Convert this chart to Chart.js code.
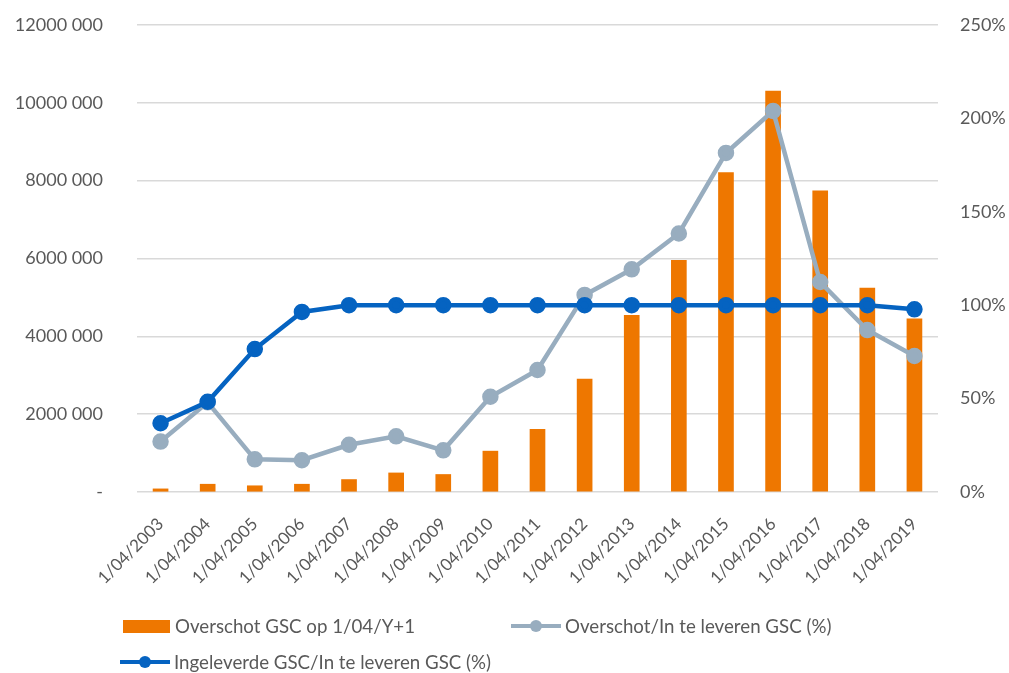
<!DOCTYPE html>
<html>
<head>
<meta charset="utf-8">
<script src="https://cdn.jsdelivr.net/npm/chart.js@4.4.1/dist/chart.umd.min.js"></script>
<style>
html,body{margin:0;padding:0;background:#fff;}
#wrap{position:relative;width:1009px;height:673px;overflow:hidden;}
canvas{position:absolute;left:0;top:0;}
.lg{position:absolute;font-family:Lato,"Open Sans",sans-serif;font-size:18.7px;color:#595959;white-space:nowrap;display:flex;align-items:center;}
.box{display:inline-block;width:47px;height:13px;background:#EE7700;margin-right:5px;}
.ln{position:relative;display:inline-block;width:50px;height:12px;margin-right:4px;}
.ln:before{content:"";position:absolute;left:0;right:0;top:4px;height:4px;}
.ln:after{content:"";position:absolute;left:19px;top:0;width:12px;height:12px;border-radius:50%;}
.g:before,.g:after{background:#98ADBF;}
.b:before,.b:after{background:#0563C1;}
</style>
</head>
<body>
<div id="wrap">
<canvas id="c" width="1009" height="673"></canvas>
<div class="lg" style="left:123px;top:615px;"><span class="box"></span><span>Overschot GSC op 1/04/Y+1</span></div>
<div class="lg" style="left:511px;top:615px;"><span class="ln g"></span><span>Overschot/In te leveren GSC (%)</span></div>
<div class="lg" style="left:120px;top:651px;"><span class="ln b"></span><span>Ingeleverde GSC/In te leveren GSC (%)</span></div>
</div>
<script>
const categories = ["1/04/2003","1/04/2004","1/04/2005","1/04/2006","1/04/2007","1/04/2008","1/04/2009","1/04/2010","1/04/2011","1/04/2012","1/04/2013","1/04/2014","1/04/2015","1/04/2016","1/04/2017","1/04/2018","1/04/2019"];
const overschot = [80000,200000,160000,200000,320000,490000,450000,1050000,1610000,2900000,4540000,5950000,8210000,10300000,7740000,5240000,4450000];
const overschotPct = [27,48,17.5,17,25.3,29.8,22.3,51,65.3,105.5,119.2,138.4,181.5,204,112.4,86.7,72.8];
const ingeleverdPct = [36.8,48.3,76.5,96.4,100,100,100,100,100,100,100,100,100,100,100,100,97.8];
const leftTickLabels = ["-","2000 000","4000 000","6000 000","8000 000","10000 000","12000 000"];
const rightTickLabels = ["0%","50%","100%","150%","200%","250%"];
const seriesNames = ["Overschot GSC op 1/04/Y+1","Overschot/In te leveren GSC (%)","Ingeleverde GSC/In te leveren GSC (%)"];

const tickFont = {family:"Lato, 'Open Sans', sans-serif", size:18};
new Chart(document.getElementById('c'), {
  data: {
    labels: categories,
    datasets: [
      {type:'line', label:seriesNames[2], data:ingeleverdPct, yAxisID:'y1', borderColor:'#0563C1', backgroundColor:'#0563C1', borderWidth:4.5, pointRadius:6, pointHoverRadius:6, tension:0, order:1},
      {type:'line', label:seriesNames[1], data:overschotPct, yAxisID:'y1', borderColor:'#98ADBF', backgroundColor:'#98ADBF', borderWidth:4.5, pointRadius:6, pointHoverRadius:6, tension:0, order:2},
      {type:'bar', label:seriesNames[0], data:overschot, yAxisID:'y', backgroundColor:'#EE7700', barThickness:15, order:3}
    ]
  },
  options: {
    responsive:false, animation:false,
    layout:{padding:{top:25,bottom:73,left:0,right:0}},
    plugins:{legend:{display:false}, tooltip:{enabled:false}},
    scales:{
      x:{
        grid:{display:false}, border:{display:false},
        ticks:{font:{family:"Lato, 'Open Sans', sans-serif", size:17}, color:'#595959', minRotation:45, maxRotation:45, autoSkip:false, padding:14},
        afterFit:(s)=>{s.height=108;}
      },
      y:{
        position:'left', min:0, max:12000000,
        grid:{color:'#D9D9D9', lineWidth:1.5, drawTicks:false}, border:{display:false},
        ticks:{stepSize:2000000, font:tickFont, color:'#595959', padding:34, callback:(v)=>leftTickLabels[Math.round(v/2000000)]},
        afterFit:(s)=>{s.width=137; s.paddingTop=12; s.paddingBottom=12;}
      },
      y1:{
        position:'right', min:0, max:250,
        grid:{display:false, drawTicks:false}, border:{display:false},
        ticks:{stepSize:50, font:tickFont, color:'#595959', padding:22, callback:(v)=>rightTickLabels[Math.round(v/50)]},
        afterFit:(s)=>{s.width=71; s.paddingTop=12; s.paddingBottom=12;}
      }
    }
  }
});
</script>
</body>
</html>
